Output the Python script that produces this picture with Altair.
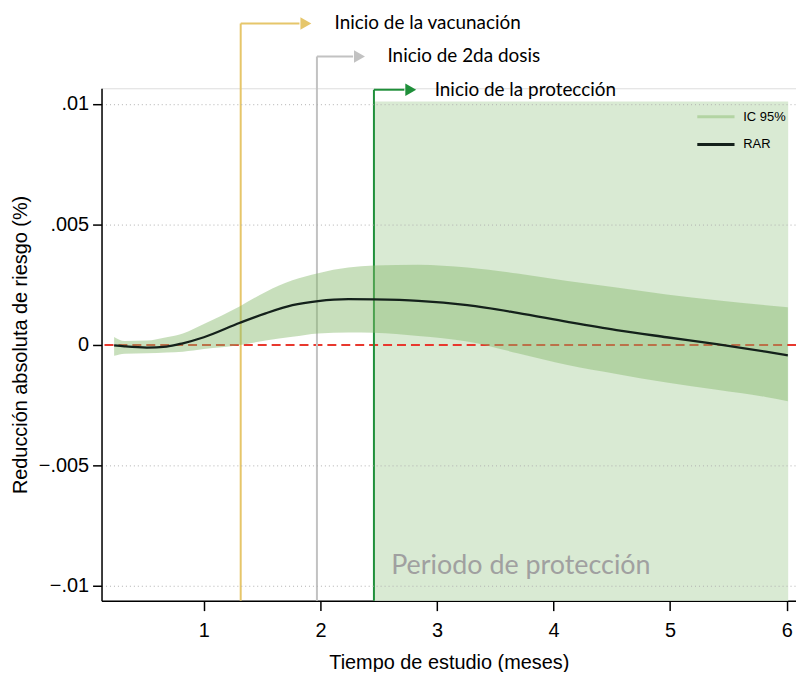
import altair as alt
import pandas as pd

# ---------------- data ----------------
t = [0.23, 0.32, 0.51, 0.68, 0.82, 1.00, 1.31, 1.53, 1.76, 1.98, 2.24, 2.46,
     2.84, 3.26, 3.69, 4.12, 4.54, 4.97, 5.40, 5.82, 6.01]
rar = [-0.00002, -0.00006, -0.00011, -0.00007, 0.00007, 0.00032, 0.00092, 0.00131,
       0.00165, 0.00182, 0.00190, 0.00189, 0.00183, 0.00165, 0.00133, 0.00096,
       0.00062, 0.00032, 0.00003, -0.00028, -0.00043]
ic_hi = [0.00033, 0.00016, 0.00018, 0.00032, 0.00048, 0.00087, 0.00161, 0.00220,
         0.00268, 0.00298, 0.00321, 0.00330, 0.00333, 0.00321, 0.00296, 0.00265,
         0.00238, 0.00209, 0.00186, 0.00165, 0.00156]
ic_lo = [-0.00045, -0.00036, -0.00034, -0.00031, -0.00028, -0.00017, 0.00000, 0.00018,
         0.00034, 0.00048, 0.00052, 0.00051, 0.00037, 0.00014, -0.00034, -0.00083,
         -0.00120, -0.00156, -0.00186, -0.00216, -0.00234]

events = ["Inicio de la vacunación", "Inicio de 2da dosis", "Inicio de la protección"]
event_x = [1.316, 1.970, 2.459]
event_top = [0.01334, 0.01197, 0.01059]
arrow_end = [1.82, 2.28, 2.72]
arrow_tip = [1.875, 2.335, 2.775]
label_x = [2.121, 2.575, 2.980]
event_colors = ["#e6c66a", "#c2c2c2", "#1f8f3a"]

prot_start, prot_end, prot_top = 2.459, 6.013, 0.0101
prot_label = "Periodo de protección"
prot_label_x, prot_label_y = 2.607, -0.00952

y_ticks = [-0.01, -0.005, 0, 0.005, 0.01]
x_ticks = [1, 2, 3, 4, 5, 6]
x_dom = [0.122, 6.08]
y_dom = [-0.01061, 0.01065]

W, H = 698, 515

# ---------------- frames ----------------
curve = pd.DataFrame({"t": t, "rar": rar, "hi": ic_hi, "lo": ic_lo, "serie": "RAR"})
ev = pd.DataFrame({"name": events, "x": event_x, "top": event_top, "end": arrow_end,
                   "tip": arrow_tip, "lx": label_x, "color": event_colors,
                   "bottom": y_dom[0]})
prot = pd.DataFrame({"x": [prot_start], "x2": [prot_end], "y": [prot_top], "y2": [y_dom[0]]})
zero = pd.DataFrame({"y": [0]})
plab = pd.DataFrame({"x": [prot_label_x], "y": [prot_label_y], "txt": [prot_label]})

xs = alt.Scale(domain=x_dom, nice=False, zero=False)
ys = alt.Scale(domain=y_dom, nice=False, zero=False)

xaxis = alt.Axis(values=x_ticks, grid=False, title="Tiempo de estudio (meses)", format="d",
                 labelFontSize=20, titleFontSize=20, tickSize=10, labelPadding=10,
                 titlePadding=12, domainColor="black", tickColor="black",
                 domainWidth=1.5, tickWidth=1.5, labelColor="black", titleColor="black",
                 titleFontWeight="normal", labelFont="Liberation Sans",
                 titleFont="Liberation Sans", labelFlush=False)
yaxis = alt.Axis(values=y_ticks, grid=True, title="Reducción absoluta de riesgo (%)",
                 labelExpr="replace(format(datum.value, '~g'), '0.', '.')",
                 labelFontSize=20, titleFontSize=20, tickSize=9, labelPadding=4,
                 titlePadding=8, domainColor="black", tickColor="black",
                 domainWidth=1.5, tickWidth=1.5, labelColor="black", titleColor="black",
                 titleFontWeight="normal", labelFont="Liberation Sans",
                 titleFont="Liberation Sans", gridColor="#b0b0b0", gridDash=[1, 3],
                 gridWidth=1,
                 gridOpacity={"condition": {"test": "datum.value === 0", "value": 0}, "value": 1},
                 zindex=1)

rect = alt.Chart(prot).mark_rect(color="#d9ead3").encode(
    x=alt.X("x:Q", scale=xs, axis=xaxis), x2="x2:Q",
    y=alt.Y("y:Q", scale=ys, axis=yaxis), y2="y2:Q")

zline = alt.Chart(zero).mark_rule(color="#e8382e", strokeDash=[9, 5], strokeWidth=2).encode(
    y=alt.Y("y:Q", scale=ys))

vlines = alt.Chart(ev).mark_rule(strokeWidth=2, clip=False).encode(
    x=alt.X("x:Q", scale=xs), y=alt.Y("top:Q", scale=ys), y2="bottom:Q",
    color=alt.Color("color:N", scale=None))

hlines = alt.Chart(ev).mark_rule(strokeWidth=2, clip=False).encode(
    x=alt.X("x:Q", scale=xs), x2="end:Q", y=alt.Y("top:Q", scale=ys),
    color=alt.Color("color:N", scale=None))

heads = alt.Chart(ev).mark_point(shape="triangle-right", filled=True, size=160,
                                 opacity=1, clip=False).encode(
    x=alt.X("tip:Q", scale=xs), y=alt.Y("top:Q", scale=ys),
    color=alt.Color("color:N", scale=None))

labels = alt.Chart(ev).mark_text(align="left", baseline="middle", font="Lato",
                                 fontSize=19, color="black", clip=False).encode(
    x=alt.X("lx:Q", scale=xs), y=alt.Y("top:Q", scale=ys), text="name:N")

band = alt.Chart(curve).mark_area(color="#86b86a", opacity=0.45, interpolate="monotone").encode(
    x=alt.X("t:Q", scale=xs), y=alt.Y("hi:Q", scale=ys), y2="lo:Q")

line = alt.Chart(curve).mark_line(strokeWidth=2.3, interpolate="monotone").encode(
    x=alt.X("t:Q", scale=xs), y=alt.Y("rar:Q", scale=ys),
    color=alt.Color("serie:N",
                    scale=alt.Scale(domain=["IC 95%", "RAR"], range=["#b3d4a3", "#14211b"]),
                    legend=alt.Legend(title=None, orient="none", legendX=597, legendY=8,
                                      symbolType="stroke", symbolSize=1400,
                                      symbolStrokeWidth=3, labelFontSize=13,
                                      labelFont="Liberation Sans", labelColor="black",
                                      rowPadding=-14, labelOffset=7)))

plabel = alt.Chart(plab).mark_text(align="left", baseline="alphabetic", font="Lato",
                                   fontSize=27, color="#a0a0a0").encode(
    x=alt.X("x:Q", scale=xs), y=alt.Y("y:Q", scale=ys), text="txt:N")

chart = alt.layer(rect, zline, vlines, band, line, hlines, heads, labels, plabel).properties(
    width=W, height=H,
    autosize=alt.AutoSizeParams(type="none"),
    padding={"left": 94, "top": 79, "right": 0, "bottom": 70},
).configure_view(stroke=None).configure(background="white")

chart.save("out.html", embed_options={"renderer": "svg", "actions": False})
